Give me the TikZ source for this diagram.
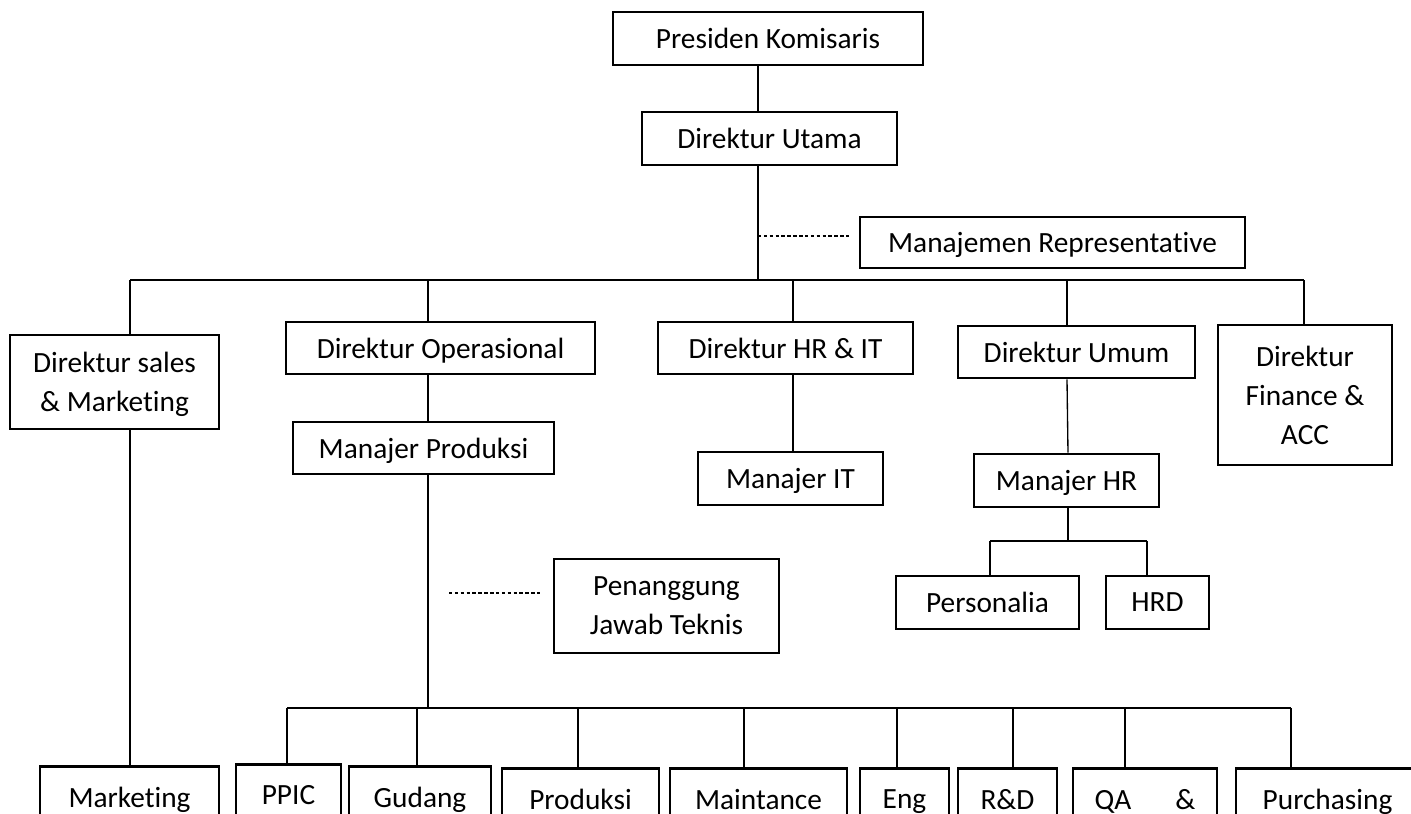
\documentclass[tikz,border=0pt]{standalone}
\usepackage{fontspec}
\setmainfont{Carlito}[Ligatures=NoCommon]
\usepackage{tikz}

\begin{document}
\begin{tikzpicture}[x=0.375pt, y=-0.375pt,
    main/.style = {draw, rectangle, line width=1pt, align=center, inner sep=0pt, text depth=0pt, font=\fontsize{11}{14.6}\selectfont},
    boxsize/.style 2 args = {minimum width=#1*0.375pt, minimum height=#2*0.375pt},
    low/.style = {main, anchor=north},
    link/.style = {line width=0.5pt},
    dots/.style = {line width=0.6pt, dash pattern=on 1.3pt off 0.9pt}]
    \useasboundingbox (0,0) rectangle (1411,813);

    \node[main, boxsize={310}{53}] (PK) at (768,38.5) {Presiden Komisaris};
    \node[main, boxsize={255}{53}] (DU) at (769.5,138.5) {Direktur Utama};
    \node[main, boxsize={385}{51}] (MR) at (1052.5,242.5) {Manajemen Representative};

    \node[main, boxsize={209}{94}] (DSM) at (114.5,382) {Direktur sales\\\& Marketing};
    \node[main, boxsize={309}{52}] (DO) at (440.5,348) {Direktur Operasional};
    \node[main, boxsize={255}{52}] (DHI) at (785.5,348) {Direktur HR \& IT};
    \node[main, boxsize={237}{52}] (DUM) at (1076.5,352) {Direktur Umum};
    \node[main, boxsize={174}{140}] (DFA) at (1305,395) {Direktur\\Finance \&\\ACC};

    \node[main, boxsize={261}{52}] (MP) at (423.5,448) {Manajer Produksi};
    \node[main, boxsize={185}{53}] (MIT) at (790.5,478.5) {Manajer IT};
    \node[main, boxsize={185}{53}] (MHR) at (1066.5,480.5) {Manajer HR};
    \node[main, boxsize={225}{94}] (PJT) at (666.5,606) {Penanggung\\Jawab Teknis};
    \node[main, boxsize={183}{53}] (PRS) at (987.5,602.5) {Personalia};
    \node[main, boxsize={103}{53}] (HRD) at (1157.5,602.5) {HRD};

    \node[low, boxsize={179}{62}] (MKT) at (129.5,765) {Marketing};
    \node[low, boxsize={105}{62}] (PPIC) at (288.5,763) {PPIC};
    \node[low, boxsize={142}{62}] (GDG) at (420,765) {Gudang};
    \node[low, boxsize={157}{62}] (PRD) at (580.5,767) {Produksi};
    \node[low, boxsize={177}{62}] (MTC) at (758.5,767) {Maintance};
    \node[low, boxsize={89}{62}] (ENG) at (904.5,767) {Eng};
    \node[low, boxsize={99}{62}] (RND) at (1007.5,767) {R\&D};
    \node[low, boxsize={144}{62}] (QA) at (1145,767) {QA\hspace{16.5pt}\&};
    \node[low, boxsize={183}{62}] (PUR) at (1327.5,767) {Purchasing};

    \coordinate (b1) at (130,280);
    \coordinate (b2) at (428,280);
    \coordinate (b3) at (758,280);
    \coordinate (b4) at (793,280);
    \coordinate (b5) at (1067,280);
    \coordinate (b6) at (1304,280);
    \coordinate (h0) at (1068,541);
    \coordinate (h1) at (990,541);
    \coordinate (h2) at (1147,541);
    \coordinate (p0) at (428,708);
    \coordinate (p1) at (287,708);
    \coordinate (p2) at (1291,708);
    \coordinate (mrdot) at (850,236);
    \coordinate (pj1) at (449,593);
    \coordinate (pj2) at (542,593);

    \draw[link] (PK.south -| b3) -- (DU.north -| b3);
    \draw[link] (DU.south -| b3) -- (b3);
    \draw[link] (b1) -- (b6);
    \foreach \b/\n in {b1/DSM, b2/DO, b4/DHI, b5/DUM, b6/DFA}
        \draw[link] (\b) -- (\b |- \n.north);
    \draw[dots] (mrdot -| b3) -- (mrdot);

    \draw[link] (DSM.south -| b1) -- (MKT.north -| b1);
    \draw[link] (DO.south -| b2) -- (MP.north -| b2);
    \draw[link] (DHI.south -| b4) -- (MIT.north -| b4);
    \draw[link] (DUM.south -| b5) -- (MHR.north -| h0);
    \draw[link] (MHR.south -| h0) -- (h0);
    \draw[link] (h1) -- (h2);
    \draw[link] (h1) -- (h1 |- PRS.north);
    \draw[link] (h2) -- (h2 |- HRD.north);

    \draw[link] (MP.south -| p0) -- (p0);
    \draw[dots] (pj1) -- (pj2);
    \draw[link] (p1) -- (p2);
    \foreach \x/\n in {287/PPIC, 417/GDG, 578/PRD, 744/MTC, 897/ENG, 1013/RND, 1125/QA, 1291/PUR} {
        \coordinate (t) at (\x,708);
        \draw[link] (t) -- (t |- \n.north);
    }
\end{tikzpicture}
\end{document}
